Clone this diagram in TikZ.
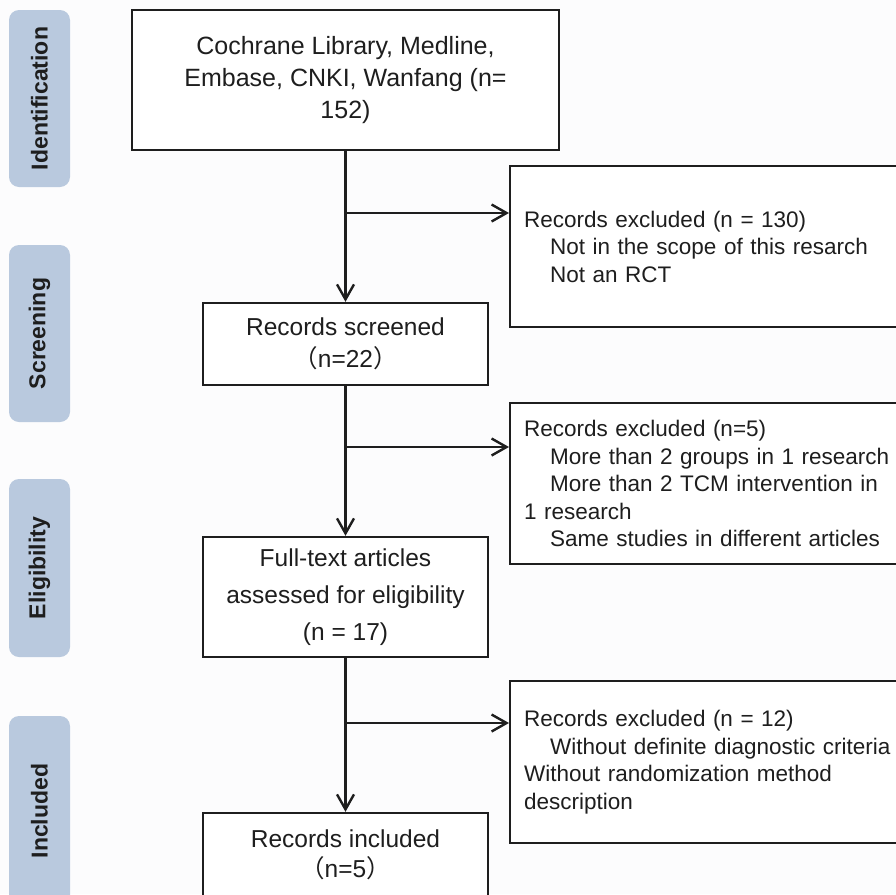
\documentclass[tikz,border=0pt]{standalone}
\usepackage{fontspec}
\setmainfont{Liberation Sans}
\newfontfamily\cjkfont{Noto Sans CJK SC}
\usetikzlibrary{arrows.meta}
\definecolor{bg}{HTML}{FCFCFD}
\definecolor{lab}{HTML}{B9C9DE}
\definecolor{ink}{HTML}{1E1E1E}
\newcommand{\ind}{\hspace*{26pt}}
\newcommand{\lp}{{\cjkfont （}}
\newcommand{\rp}{{\cjkfont ）}}
\begin{document}
\begin{tikzpicture}[x=1pt,y=-1pt,
  box/.style={draw=ink, line width=2.4pt, fill=white, align=center, text=ink, inner sep=0pt},
  exbox/.style={draw=ink, line width=2.4pt, fill=white, align=left, text=ink,
    inner xsep=14pt, inner ysep=0pt, text width=392pt, minimum height=161pt,
    anchor=north west, font=\fontsize{22.5}{27.6}\selectfont},
  phase/.style={fill=lab, rounded corners=10pt, minimum height=61pt, inner sep=0pt,
    text=ink, font=\bfseries\fontsize{23}{27}\selectfont, rotate=90},
  conn/.style={line width=2.4pt, draw=ink},
  arr/.style={conn, -{Straight Barb[length=15pt,width=17pt]}}
]
\useasboundingbox (0,0) rectangle (896,894);
\fill[bg] (0,0) rectangle (896,894);
\clip (0,0) rectangle (896,894);

% phase labels
\node[phase, minimum width=177pt] (ph1) at (39.5,98.5) {Identification};
\node[phase, minimum width=177pt] (ph2) at (39.5,333.5) {Screening};
\node[phase, minimum width=178pt] (ph3) at (39.5,568) {Eligibility};
\node[phase, minimum width=190pt] (ph4) at (39.5,811) {Included};

% main boxes
\node[box, minimum width=427pt, minimum height=140pt, font=\fontsize{25}{32}\selectfont]
  (top) at (345.5,80) {Cochrane Library, Medline,\\Embase, CNKI, Wanfang (n=\\152)};
\node[box, minimum width=285pt, minimum height=82pt, font=\fontsize{24.5}{32}\selectfont]
  (scr) at (345.5,344) {Records screened\\\lp n=22\rp};
\node[box, minimum width=285pt, minimum height=120pt, font=\fontsize{24.5}{37}\selectfont]
  (elig) at (345.5,597) {Full-text articles\\assessed for eligibility\\(n = 17)};
\node[box, minimum width=285pt, minimum height=84pt, font=\fontsize{24.5}{30}\selectfont]
  (incl) at (345.5,855) {Records included\\\lp n=5\rp};

% exclusion boxes
\node[exbox] (ex1) at (509,165) {Records excluded (n = 130)\\
\ind Not in the scope of this resarch\\
\ind Not an RCT};
\node[exbox] (ex2) at (509,402) {Records excluded (n=5)\\
\ind More than 2 groups in 1 research\\
\ind More than 2 TCM intervention in\\
1 research\\
\ind Same studies in different articles};
\node[exbox, minimum height=162pt] (ex3) at (509,680) {Records excluded (n = 12)\\
\ind Without definite diagnostic criteria\\
Without randomization method\\
description};

% connectors
\draw[arr] (top.south) -- (scr.north);
\draw[arr] (scr.south) -- (elig.north);
\draw[arr] (elig.south) -- (incl.north);
\coordinate (b1) at (345.5,213);
\coordinate (b2) at (345.5,447);
\coordinate (b3) at (345.5,723);
\draw[arr] (b1) -- (b1 -| ex1.west);
\draw[arr] (b2) -- (b2 -| ex2.west);
\draw[arr] (b3) -- (b3 -| ex3.west);
\end{tikzpicture}
\end{document}
